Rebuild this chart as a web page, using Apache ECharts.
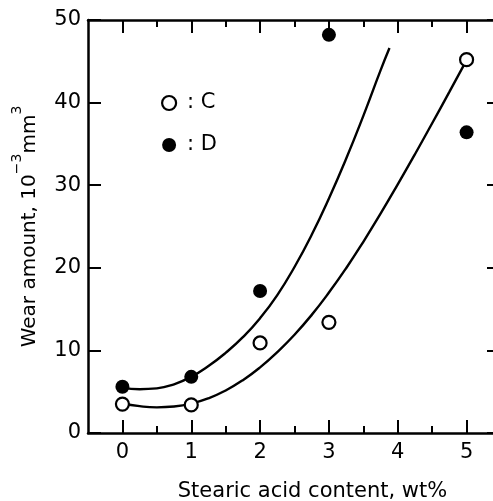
<!DOCTYPE html>
<html>
<head>
<meta charset="utf-8">
<script src="https://cdn.jsdelivr.net/npm/echarts@6/dist/echarts.min.js"></script>
<style>
  html, body { margin: 0; padding: 0; background: #fff; }
  #chart { width: 493px; height: 501px; }
</style>
</head>
<body>
<div id="chart"></div>
<script>
// Measured wear amounts (10^-3 mm^3) vs. stearic acid content (wt%)
const contentC = [0, 1, 2, 3, 5];
const wearC = [3.5, 3.4, 10.9, 13.4, 45.2];
const contentD = [0, 1, 2, 3, 5];
const wearD = [5.6, 6.8, 17.2, 48.2, 36.4];

// Fitted trend curves
const fitXC = [0, 0.25, 0.5, 0.75, 1, 1.25, 1.5, 1.75, 2, 2.25, 2.5, 2.75, 3, 3.25, 3.5, 3.75, 4, 4.25, 4.5, 4.75, 5];
const fitYC = [3.6, 3.25, 3.1, 3.2, 3.55, 4.2, 5.15, 6.4, 7.95, 9.8, 11.9, 14.3, 17.0, 19.95, 23.15, 26.55, 30.1, 33.75, 37.5, 41.3, 45.15];
const fitXD = [0, 0.25, 0.5, 0.75, 1, 1.25, 1.5, 1.75, 2, 2.25, 2.5, 2.75, 3, 3.25, 3.5, 3.75, 3.88];
const fitYD = [5.5, 5.3, 5.4, 5.9, 6.8, 8.1, 9.7, 11.6, 13.9, 16.7, 20.1, 24.0, 28.4, 33.2, 38.4, 43.9, 46.6];

// Axis ticks
const xMajorTicks = [0, 1, 2, 3, 4, 5];
const xMinorTicks = [0.5, 1.5, 2.5, 3.5, 4.5];
const yTicks = [0, 10, 20, 30, 40, 50];

const zip = (xs, ys) => xs.map((x, i) => [x, ys[i]]);
const FONT = 'DejaVu Sans';
const INK = '#000';

const xBase = { type: 'value', min: -0.5, max: 5.5, splitLine: { show: false } };
const yBase = { type: 'value', min: 0, max: 50, interval: 10, splitLine: { show: false } };
const frameLine = { onZero: false, lineStyle: { color: INK, width: 2.5 } };
const noLine = { show: false, onZero: false };

const chart = echarts.init(document.getElementById('chart'), null, { renderer: 'canvas' });
chart.setOption({
  backgroundColor: '#fff',
  animation: false,
  grid: { left: 88, top: 20, width: 413, height: 413, containLabel: false, outerBoundsMode: 'none' },
  legend: {
    orient: 'vertical',
    left: 156, top: 87,
    itemWidth: 14, itemHeight: 14, itemGap: 20,
    formatter: ': {name}',
    textStyle: { fontFamily: FONT, fontSize: 21, lineHeight: 22, color: INK, padding: [0, 0, 0, 6] },
    data: [
      { name: 'C', icon: 'circle', itemStyle: { color: '#fff', borderColor: INK, borderWidth: 2.2 } },
      { name: 'D', icon: 'circle', itemStyle: { color: INK, borderWidth: 0 } }
    ]
  },
  xAxis: [
    Object.assign({}, xBase, {
      position: 'bottom',
      name: 'Stearic acid content, wt%',
      nameLocation: 'middle', nameGap: 48,
      nameTextStyle: { fontFamily: FONT, fontSize: 21, color: INK, padding: [0, 0, 0, 36] },
      axisLine: frameLine,
      axisTick: { inside: true, length: 13, customValues: xMajorTicks, lineStyle: { color: INK, width: 2 } },
      axisLabel: { customValues: xMajorTicks, margin: 9, fontFamily: FONT, fontSize: 21, color: INK }
    }),
    Object.assign({}, xBase, {
      position: 'bottom',
      axisLine: noLine,
      axisTick: { inside: true, length: 7, customValues: xMinorTicks, lineStyle: { color: INK, width: 2 } },
      axisLabel: { show: false }
    }),
    Object.assign({}, xBase, {
      position: 'top',
      axisLine: frameLine,
      axisTick: { inside: true, length: 13, customValues: xMajorTicks, lineStyle: { color: INK, width: 2 } },
      axisLabel: { show: false }
    }),
    Object.assign({}, xBase, {
      position: 'top',
      axisLine: noLine,
      axisTick: { inside: true, length: 7, customValues: xMinorTicks, lineStyle: { color: INK, width: 2 } },
      axisLabel: { show: false }
    })
  ],
  yAxis: [
    Object.assign({}, yBase, {
      position: 'left',
      name: '{n|Wear amount, 10}{s|−3}{n|mm}{s|3}',
      nameLocation: 'middle', nameRotate: 90, nameGap: 48,
      nameTextStyle: {
        color: INK,
        rich: {
          n: { fontFamily: FONT, fontSize: 20, color: INK, lineHeight: 30, verticalAlign: 'bottom' },
          s: { fontFamily: FONT, fontSize: 14, color: INK, lineHeight: 15, verticalAlign: 'top' }
        }
      },
      axisLine: frameLine,
      axisTick: { inside: true, length: 13, customValues: yTicks, lineStyle: { color: INK, width: 2 } },
      axisLabel: { customValues: yTicks, margin: 7, fontFamily: FONT, fontSize: 21, color: INK }
    }),
    Object.assign({}, yBase, {
      position: 'right',
      axisLine: frameLine,
      axisTick: { inside: true, length: 14, customValues: yTicks, lineStyle: { color: INK, width: 2 } },
      axisLabel: { show: false }
    })
  ],
  series: [
    {
      name: 'C-fit', type: 'line', smooth: true, showSymbol: false, symbol: 'none',
      data: zip(fitXC, fitYC), lineStyle: { color: INK, width: 2.4 }, z: 2, silent: true
    },
    {
      name: 'D-fit', type: 'line', smooth: true, showSymbol: false, symbol: 'none',
      data: zip(fitXD, fitYD), lineStyle: { color: INK, width: 2.4 }, z: 2, silent: true
    },
    {
      name: 'C', type: 'scatter', symbol: 'circle', symbolSize: 13,
      data: zip(contentC, wearC),
      itemStyle: { color: '#fff', borderColor: INK, borderWidth: 2.2, opacity: 1 }, z: 3
    },
    {
      name: 'D', type: 'scatter', symbol: 'circle', symbolSize: 14,
      data: zip(contentD, wearD),
      itemStyle: { color: INK, opacity: 1 }, z: 3
    }
  ]
});
</script>
</body>
</html>
